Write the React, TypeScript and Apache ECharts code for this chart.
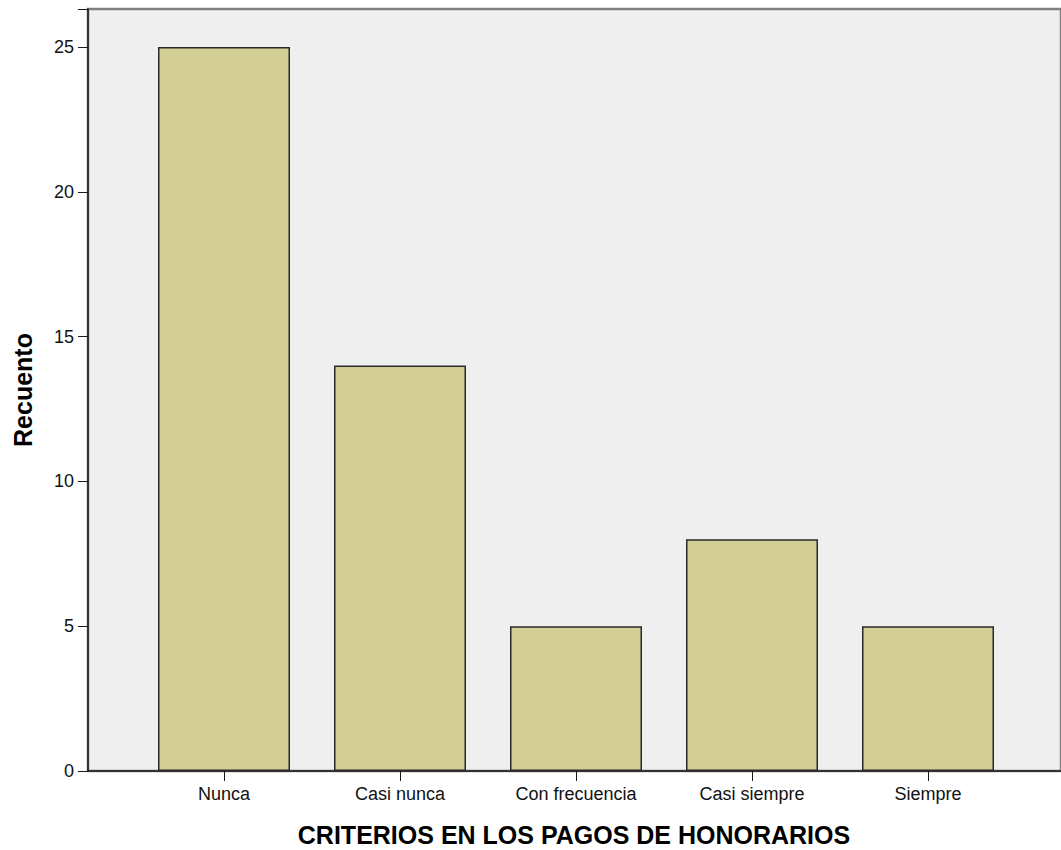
import React, { useEffect, useRef } from "react";
import * as echarts from "echarts";

const categories = ["Nunca", "Casi nunca", "Con frecuencia", "Casi siempre", "Siempre"];
const counts = [25, 14, 5, 8, 5];
const yTitle = "Recuento";
const xTitle = "CRITERIOS EN LOS PAGOS DE HONORARIOS";
const yMax = 26.31;

const FONT = 'Arial, "Liberation Sans", sans-serif';

export default function App() {
  const ref = useRef<HTMLDivElement>(null);
  useEffect(() => {
    if (!ref.current) return;
    const chart = echarts.init(ref.current, null, { renderer: "svg" });
    chart.setOption({
      animation: false,
      backgroundColor: "#ffffff",
      grid: [
        {
          left: 88, top: 9, right: -30, bottom: 79,
          show: true, backgroundColor: "#efefef", borderColor: "#808080", borderWidth: 2.5,
        },
        { left: 136, top: 9, right: 45, bottom: 79 },
      ],
      xAxis: [
        {
          gridIndex: 0, type: "value", min: 0, max: 1,
          axisLine: { show: true, lineStyle: { color: "#1a1a1a", width: 1.5 } },
          axisTick: { show: false }, axisLabel: { show: false }, splitLine: { show: false },
        },
        {
          gridIndex: 1, type: "category", data: categories,
          axisLine: { show: false },
          axisTick: { show: true, alignWithLabel: true, length: 10, lineStyle: { color: "#1a1a1a", width: 1 } },
          axisLabel: { margin: 14, fontSize: 18, color: "#111", fontFamily: FONT },
        },
      ],
      yAxis: [
        {
          gridIndex: 0, type: "value", min: 0, max: yMax, interval: 5,
          axisLine: { show: true, lineStyle: { color: "#1a1a1a", width: 1.5 } },
          axisTick: { show: true, length: 10, lineStyle: { color: "#1a1a1a", width: 1 } },
          axisLabel: {
            margin: 14, fontSize: 18, color: "#111", fontFamily: FONT,
            formatter: (v: number) => (v % 5 === 0 ? String(v) : ""),
          },
          splitLine: { show: false },
        },
        { gridIndex: 1, type: "value", min: 0, max: yMax, show: false },
      ],
      series: [
        {
          type: "bar",
          xAxisIndex: 1,
          yAxisIndex: 1,
          data: counts,
          barWidth: "75%",
          itemStyle: { color: "#d2ce96", borderColor: "#2a2a2a", borderWidth: 1.5 },
        },
      ],
      graphic: [
        {
          type: "text",
          x: 574, y: 835,
          style: {
            text: xTitle, fontSize: 25, fontWeight: "bold", fontFamily: FONT,
            fill: "#000", align: "center", verticalAlign: "middle",
          },
        },
        {
          type: "text",
          x: 23, y: 390, rotation: Math.PI / 2,
          style: {
            text: yTitle, fontSize: 25, fontWeight: "bold", fontFamily: FONT,
            fill: "#000", align: "center", verticalAlign: "middle",
          },
        },
      ],
    });
    return () => chart.dispose();
  }, []);
  return (
    <div
      ref={ref}
      style={{ position: "fixed", left: 0, top: 0, width: 1061, height: 850 }}
    />
  );
}
